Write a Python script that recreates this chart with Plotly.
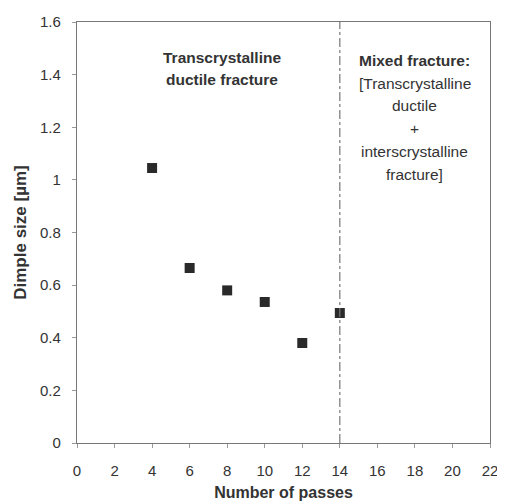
import plotly.graph_objects as go

passes = [4, 6, 8, 10, 12, 14]
dimple_size = [1.045, 0.665, 0.58, 0.536, 0.38, 0.494]
boundary_x = 14

left_lines = ["<b>Transcrystalline</b>", "<b>ductile fracture</b>"]
left_y = [1.467, 1.38]
right_lines = ["<b>Mixed fracture:</b>", "[Transcrystalline", "ductile", "+", "interscrystalline", "fracture]"]
right_y = [1.452, 1.368, 1.281, 1.197, 1.106, 1.022]

FONT = "Liberation Sans, Arial, sans-serif"

fig = go.Figure()
fig.add_trace(go.Scatter(
    x=passes, y=dimple_size, mode="markers",
    marker=dict(symbol="square", size=10, color="#2a2a2a"),
    showlegend=False,
))
fig.add_shape(type="line", x0=boundary_x, x1=boundary_x, y0=0, y1=1.6,
              xref="x", yref="y", line=dict(color="#777777", width=1.2, dash="dashdot"))

ann = []
for t, y in zip(left_lines, left_y):
    ann.append(dict(x=7.7, y=y, xref="x", yref="y", text=t, showarrow=False,
                    font=dict(family=FONT, size=15.5, color="#333333")))
for t, y in zip(right_lines, right_y):
    ann.append(dict(x=18.0, y=y, xref="x", yref="y", text=t, showarrow=False,
                    font=dict(family=FONT, size=15.5, color="#333333")))
fig.update_layout(annotations=ann)

# page body adds an 8px offset, so the figure is sized 8px smaller
fig.update_layout(
    width=497, height=496,
    margin=dict(l=69, r=15, t=14, b=61),
    paper_bgcolor="white", plot_bgcolor="white",
    font=dict(family=FONT, size=15, color="#333333"),
    xaxis=dict(range=[0, 22], tickvals=list(range(0, 23, 2)), showgrid=False, zeroline=False,
               showline=True, linecolor="#777777", linewidth=1.2, mirror=True,
               ticks="outside", ticklen=4, tickcolor="#999999", ticklabelstandoff=10,
               automargin=False,
               title=dict(text="<b>Number of passes</b>", font=dict(size=16), standoff=8)),
    yaxis=dict(range=[0, 1.6], tickvals=[0, 0.2, 0.4, 0.6, 0.8, 1, 1.2, 1.4, 1.6],
               ticktext=["0", "0.2", "0.4", "0.6", "0.8", "1", "1.2", "1.4", "1.6"],
               showgrid=False, zeroline=False,
               showline=True, linecolor="#777777", linewidth=1.2, mirror=True,
               ticks="outside", ticklen=4, tickcolor="#999999", ticklabelstandoff=8,
               automargin=False,
               title=dict(text="<b>Dimple size [µm]</b>", font=dict(size=17), standoff=9)),
)

fig.write_html("out.html")
